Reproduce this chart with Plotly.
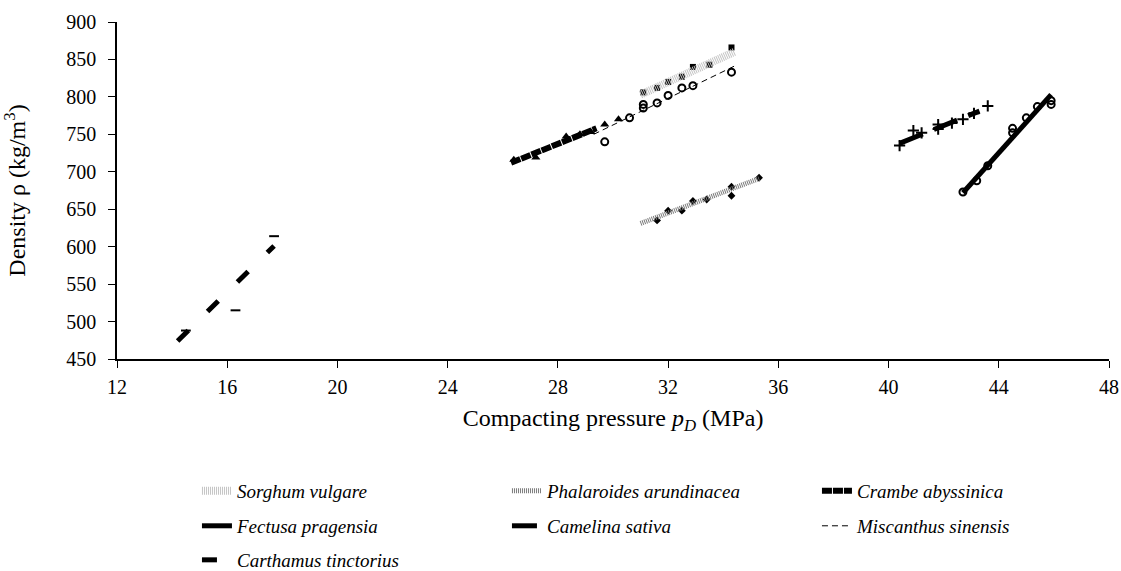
import plotly.graph_objects as go

# ---------------- data ----------------
# Sorghum vulgare
sorghum_p = [31.1, 31.6, 32.0, 32.5, 32.9, 33.5, 34.3]
sorghum_rho = [806, 812, 820, 827, 840, 843, 866]
sorghum_trend_p = [31.0, 34.4]
sorghum_trend_rho = [803, 860]

# Phalaroides arundinacea
phal_p = [31.6, 32.0, 32.5, 32.9, 33.4, 34.3, 34.3, 35.3]
phal_rho = [635, 648, 648, 661, 663, 668, 680, 692]
phal_trend_p = [31.0, 35.3]
phal_trend_rho = [631, 691]

# Crambe abyssinica
crambe_p = [26.4, 27.2, 28.3, 28.8, 29.2, 29.7, 30.2]
crambe_rho = [716, 719, 747, 750, 753, 763, 770]
crambe_trend_p = [26.3, 29.4]
crambe_trend_rho = [712, 758]

# Fectusa pragensia
fect_p = [42.7, 43.2, 43.6, 44.5, 44.5, 45.0, 45.4, 45.9, 45.9]
fect_rho = [673, 688, 708, 752, 758, 772, 787, 795, 790]
fect_trend_p = [42.7, 45.9]
fect_trend_rho = [672, 803]

# Camelina sativa
cam_p = [40.4, 40.9, 41.2, 41.8, 41.8, 42.3, 42.7, 43.1, 43.6]
cam_rho = [735, 755, 752, 763, 757, 765, 770, 778, 788]
cam_trend_p = [40.4, 43.3]
cam_trend_rho = [738, 781]

# Miscanthus sinensis
misc_p = [29.7, 30.6, 31.1, 31.1, 31.6, 32.0, 32.5, 32.9, 34.3]
misc_rho = [740, 772, 785, 790, 792, 802, 812, 815, 833]
misc_trend_p = [29.3, 34.4]
misc_trend_rho = [750, 841]

# Carthamus tinctorius
carth_p = [14.5, 16.3, 17.7]
carth_rho = [488, 515, 614]
carth_trend_p = [14.2, 17.7]
carth_trend_rho = [474, 601]

x_ticks = [12, 16, 20, 24, 28, 32, 36, 40, 44, 48]
y_ticks = [450, 500, 550, 600, 650, 700, 750, 800, 850, 900]

FONT = "Liberation Serif"

fig = go.Figure()

def markers(x, y, symbol, size, lw=2, color="black"):
    fig.add_trace(go.Scatter(
        x=x, y=y, mode="markers", showlegend=False, hoverinfo="skip",
        marker=dict(symbol=symbol, size=size, color=color,
                    line=dict(color="black", width=lw))))

def trend(x, y, name, color, width, dash, legend):
    fig.add_trace(go.Scatter(
        x=x, y=y, mode="lines", name="<i>" + name + "</i>", hoverinfo="skip",
        line=dict(color=color, width=width, dash=dash), legend=legend))

# markers
markers(sorghum_p, sorghum_rho, "square", 6, 0)
markers(phal_p, phal_rho, "diamond", 6, 0)
markers(crambe_p, crambe_rho, "triangle-up", 8, 0)
markers(fect_p, fect_rho, "circle-open", 7, 2)
markers(cam_p, cam_rho, "cross-thin-open", 8, 2)
markers(misc_p, misc_rho, "circle-open", 7, 2)
markers(carth_p, carth_rho, "line-ew-open", 7, 2)

# trend lines (legend order)
trend(sorghum_trend_p, sorghum_trend_rho, "Sorghum vulgare", "#c4c4c4", 8, "1px,1px", "legend")
trend(phal_trend_p, phal_trend_rho, "Phalaroides arundinacea", "#7a7a7a", 5, "1px,1px", "legend")
trend(crambe_trend_p, crambe_trend_rho, "Crambe abyssinica", "black", 6, "10px,1px", "legend")
trend(fect_trend_p, fect_trend_rho, "Fectusa pragensia", "black", 5, "solid", "legend2")
trend(cam_trend_p, cam_trend_rho, "Camelina sativa", "black", 5, "25px,12px", "legend2")
trend(misc_trend_p, misc_trend_rho, "Miscanthus sinensis", "black", 1, "6px,4px", "legend2")
trend(carth_trend_p, carth_trend_rho, "Carthamus tinctorius", "black", 5, "15px,27px", "legend3")

leg_common = dict(orientation="h", entrywidth=265, xanchor="left", yanchor="top",
                  font=dict(family=FONT, size=19, color="black"),
                  bgcolor="rgba(0,0,0,0)")

fig.update_layout(
    width=1121, height=571,
    margin=dict(l=117, r=12, t=22, b=212, autoexpand=False),
    plot_bgcolor="white", paper_bgcolor="white",
    font=dict(family=FONT, size=20, color="black"),
    xaxis=dict(range=[12, 48], tickvals=x_ticks, ticks="outside", ticklen=7,
               tickcolor="black", showline=True, linecolor="black", linewidth=1.5,
               showgrid=False, zeroline=False, ticklabelstandoff=2,
               title=dict(text="Compacting pressure <i>p<sub>D</sub></i> (MPa)", standoff=12)),
    yaxis=dict(range=[450, 900], tickvals=y_ticks, ticks="outside", ticklen=7,
               tickcolor="black", showline=True, linecolor="black", linewidth=1.5,
               showgrid=False, zeroline=False, ticklabelstandoff=8,
               title=dict(text="Density ρ (kg/m<sup>3</sup>)", standoff=36)),
    legend=dict(x=0.0806, y=-0.335, **leg_common),
    legend2=dict(x=0.0806, y=-0.439, **leg_common),
    legend3=dict(x=0.0806, y=-0.54, **leg_common),
)

# remove the default page margin so the 1121x571 figure fills the window exactly
fig.write_html("out.html", config={"displayModeBar": False},
               post_script="document.body.style.margin='0';document.body.style.overflow='hidden';")
